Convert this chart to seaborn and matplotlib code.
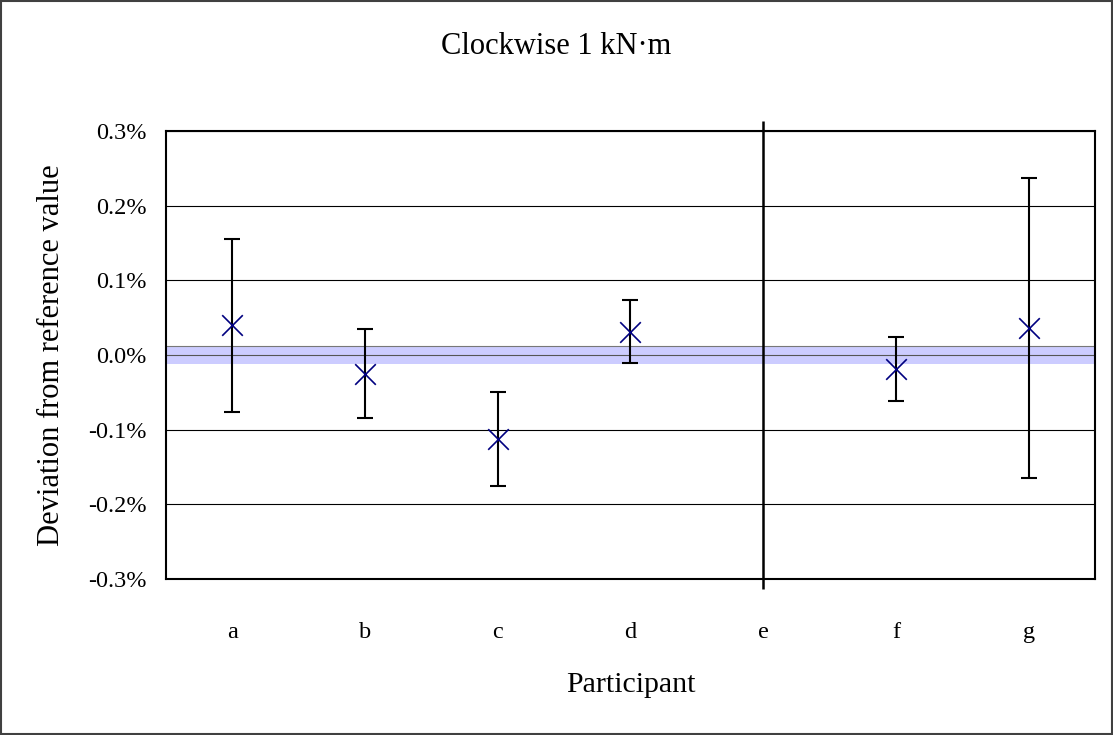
import numpy as np
import matplotlib
matplotlib.use("Agg")
import matplotlib.pyplot as plt
from matplotlib.patches import Rectangle
import seaborn as sns

# Datos (en %)
participants = ["a", "b", "c", "d", "e", "f", "g"]
deviation = [0.040, -0.025, -0.113, 0.031, np.nan, -0.019, 0.036]
uncertainty = [0.116, 0.060, 0.063, 0.042, np.nan, 0.043, 0.201]
ref_uncertainty = 0.012
y_ticks = [-0.3, -0.2, -0.1, 0.0, 0.1, 0.2, 0.3]
no_result = "e"

sns.set_theme(style="white")
plt.rcParams["font.family"] = ["Liberation Serif", "DejaVu Serif"]
plt.rcParams["text.color"] = "black"
plt.rcParams["axes.labelcolor"] = "black"
plt.rcParams["xtick.color"] = "black"
plt.rcParams["ytick.color"] = "black"

x_pos = np.arange(len(participants))
dev = np.array(deviation)
unc = np.array(uncertainty)

fig = plt.figure(figsize=(11.13, 7.35), dpi=100)
ax = fig.add_axes([0.1491, 0.2122, 0.8347, 0.6096])

# banda del valor de referencia
ax.axhspan(-ref_uncertainty, ref_uncertainty, color="#CCCCFF", lw=0, zorder=1)
ax.axhline(ref_uncertainty, color="#777777", lw=0.8, zorder=1.5)

# lineas de rejilla
for t in y_ticks:
    ax.axhline(t, color="#555555" if t == 0 else "black", lw=0.8, zorder=2)

# linea vertical del participante sin resultado
xe = participants.index(no_result)
ax.vlines(xe, y_ticks[0] - 0.013, y_ticks[-1] + 0.013, color="black",
          lw=1.8, clip_on=False, zorder=3)

# barras de error
ok = ~np.isnan(dev)
ax.errorbar(x_pos[ok], dev[ok], yerr=unc[ok], fmt="none", ecolor="black",
            elinewidth=1.5, capsize=5.5, capthick=1.5, zorder=4)

# puntos
sns.scatterplot(x=x_pos[ok], y=dev[ok], marker="x", s=220, color="#000080",
                linewidth=1.2, ax=ax, zorder=5)

ax.set_xlim(-0.5, len(participants) - 0.5)
ax.set_ylim(y_ticks[0], y_ticks[-1])
ax.set_xticks(x_pos)
ax.set_xticklabels(participants, fontsize=17.5)
ax.set_yticks(y_ticks)
ax.set_yticklabels([f"{t:.1f}%" for t in y_ticks], fontsize=17.5)
ax.tick_params(axis="x", length=0, pad=31)
ax.tick_params(axis="y", length=0, pad=14)

for s in ax.spines.values():
    s.set_color("black")
    s.set_linewidth(1.5)

ax.set_xlabel("Participant", fontsize=21.5, labelpad=21)
ax.set_ylabel("Deviation from reference value", fontsize=22, labelpad=16)
fig.text(0.5, 0.937, "Clockwise 1 kN\u00b7m", ha="center", va="center", fontsize=22)

# marco de la figura
fig.patches.append(Rectangle((0.001, 0.001), 0.998, 0.997, transform=fig.transFigure,
                             fill=False, edgecolor="#404040", lw=1.5))

fig.savefig("out.png", dpi=100)
